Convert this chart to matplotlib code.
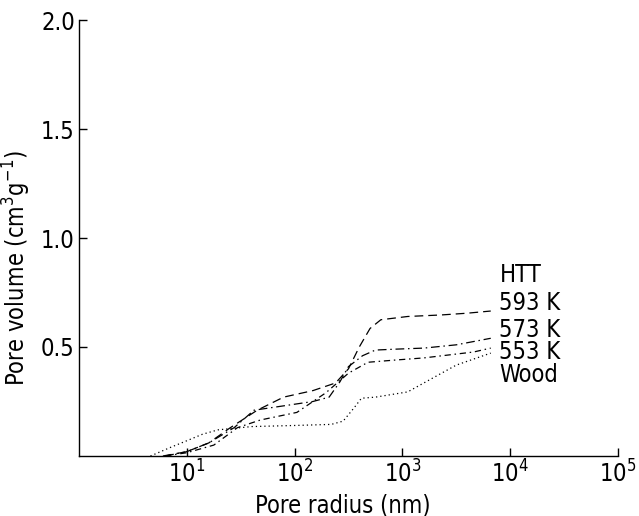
import matplotlib
matplotlib.use("Agg")
import matplotlib.pyplot as plt
from matplotlib.transforms import blended_transform_factory

plt.rcParams["font.family"] = ["DejaVu Sans"]
plt.rcParams["font.stretch"] = "condensed"
plt.rcParams["mathtext.fontset"] = "custom"
plt.rcParams["mathtext.rm"] = "DejaVu Sans:stretch=condensed"
plt.rcParams["mathtext.it"] = "DejaVu Sans:stretch=condensed"
plt.rcParams["mathtext.bf"] = "DejaVu Sans:stretch=condensed"

# ---- data (pore radius in nm, cumulative pore volume in cm3/g) ----
r_593 = [6, 10, 16, 25, 45, 79, 148, 240, 316, 398, 501, 631, 1120, 2290, 3980, 6600]
v_593 = [0, 0.02, 0.06, 0.128, 0.21, 0.27, 0.30, 0.335, 0.40, 0.50, 0.585, 0.625, 0.64, 0.647, 0.655, 0.665]

r_573 = [6.3, 10, 16, 27.5, 42, 79, 148, 209, 263, 316, 427, 562, 851, 1585, 3160, 6600]
v_573 = [0, 0.02, 0.06, 0.13, 0.21, 0.23, 0.25, 0.27, 0.34, 0.41, 0.46, 0.486, 0.49, 0.495, 0.51, 0.54]

r_553 = [6.3, 10, 17.8, 29.5, 48, 105, 195, 316, 479, 851, 1585, 4570, 6600]
v_553 = [0, 0.015, 0.05, 0.13, 0.165, 0.20, 0.29, 0.38, 0.43, 0.44, 0.45, 0.477, 0.495]

r_wood = [4.6, 7.1, 10, 14, 19.5, 40, 100, 219, 282, 355, 417, 562, 1120, 1950, 3160, 6600]
v_wood = [0, 0.04, 0.07, 0.10, 0.12, 0.135, 0.14, 0.145, 0.16, 0.22, 0.265, 0.27, 0.294, 0.36, 0.417, 0.472]

labels = ["HTT", "593 K", "573 K", "553 K", "Wood"]
label_y = [0.83, 0.70, 0.578, 0.477, 0.372]

x_ticks = [1e1, 1e2, 1e3, 1e4, 1e5]
y_ticks = [0.5, 1.0, 1.5, 2.0]

fig = plt.figure(figsize=(6.39, 5.16), dpi=100)
ax = fig.add_axes([79 / 639, 60 / 516, 539 / 639, 436 / 516])

lw = 0.9
ax.plot(r_593, v_593, color="black", lw=lw, linestyle=(0, (7, 4)))
ax.plot(r_573, v_573, color="black", lw=lw, linestyle=(0, (7, 3, 1.2, 3)))
ax.plot(r_553, v_553, color="black", lw=lw, linestyle=(0, (5, 3, 1.2, 3)))
ax.plot(r_wood, v_wood, color="black", lw=lw, linestyle=(0, (1, 2.4)))

ax.set_xscale("log")
ax.set_xlim(1, 1e5)
ax.set_ylim(0, 2.0)
ax.set_xticks(x_ticks)
ax.set_yticks(y_ticks)
ax.set_yticklabels([f"{t:.1f}" for t in y_ticks])
ax.minorticks_off()
ax.tick_params(direction="in", length=6, width=1, labelsize=17, pad=3)

for s in ["top", "right"]:
    ax.spines[s].set_visible(False)
for s in ["left", "bottom"]:
    ax.spines[s].set_linewidth(1.0)

ax.set_xlabel("Pore radius (nm)", fontsize=17)
ax.xaxis.set_label_coords(0.49, -0.085)
ax.set_ylabel("Pore volume (cm$^3$g$^{-1}$)", fontsize=17)
ax.yaxis.set_label_coords(-0.085, 0.43)

tr = blended_transform_factory(ax.transAxes, ax.transData)
for lab, y in zip(labels, label_y):
    ax.text(0.78, y, lab, transform=tr, fontsize=17, ha="left", va="center")

fig.savefig("out.png", dpi=100)
